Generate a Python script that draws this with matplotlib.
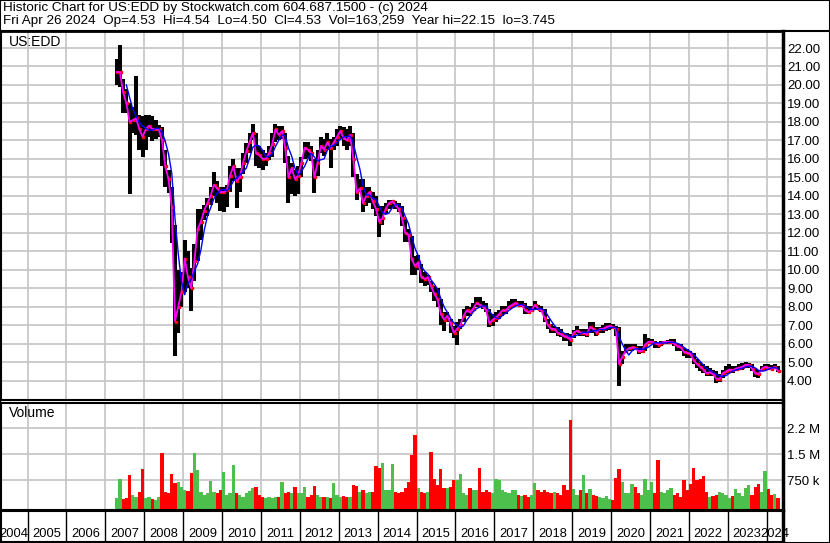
import matplotlib.pyplot as plt
import numpy as np
import pandas as pd

plt.rcParams['font.family'] = ['Liberation Sans', 'DejaVu Sans']

# monthly data, April 2007 .. April 2024
start = 2007 + 3 / 12
years = list(range(2004, 2025))

close = [
    20.7, 20.7, 19.6, 19.0, 18.0, 18.1, 18.2, 17.6, 17.2,                     # 2007
    17.6, 17.8, 17.6, 17.6, 17.6, 17.0, 15.6, 14.9, 13.4, 7.2, 8.0, 8.8,      # 2008
    10.6, 9.6, 9.0, 10.5, 12.2, 12.6, 13.2, 13.6, 14.0, 14.6, 14.4, 14.2,     # 2009
    14.2, 14.3, 15.1, 15.6, 14.8, 15.0, 15.8, 16.4, 16.9, 17.4, 16.3, 16.2,   # 2010
    16.0, 16.0, 16.3, 16.8, 17.6, 17.3, 17.5, 16.6, 15.0, 15.5, 14.9, 15.1,   # 2011
    15.8, 16.6, 16.5, 16.3, 15.0, 15.8, 16.7, 16.5, 16.9, 16.6, 16.9, 17.2,   # 2012
    17.5, 17.15, 17.0, 17.3, 16.0, 14.2, 14.4, 13.6, 14.0, 14.2, 13.7, 13.3,  # 2013
    12.6, 12.8, 13.3, 13.6, 13.7, 13.5, 13.3, 12.8, 12.0, 11.9, 10.6, 10.2,   # 2014
    10.4, 9.6, 9.5, 9.6, 9.1, 8.7, 8.4, 7.6, 7.3, 7.5, 7.1, 6.6,              # 2015
    6.8, 7.0, 7.5, 7.8, 7.7, 7.9, 8.2, 8.1, 8.0, 7.8, 7.1, 7.3,               # 2016
    7.4, 7.6, 7.8, 7.8, 8.0, 8.1, 8.2, 8.1, 8.1, 7.8, 7.7, 7.8,               # 2017
    8.1, 7.9, 7.8, 7.4, 7.0, 6.8, 6.8, 6.6, 6.5, 6.4, 6.35, 6.2,              # 2018
    6.6, 6.7, 6.6, 6.6, 6.5, 6.9, 6.8, 6.6, 6.8, 6.8, 6.9, 6.95,              # 2019
    6.9, 6.8, 4.9, 5.3, 5.6, 5.75, 5.8, 5.75, 5.6, 5.6, 5.95, 6.1,            # 2020
    6.1, 6.05, 5.95, 6.05, 6.1, 6.1, 6.1, 6.0, 5.85, 5.8, 5.55, 5.5,          # 2021
    5.45, 5.1, 4.9, 4.75, 4.6, 4.4, 4.45, 4.35, 4.1, 4.1, 4.4, 4.5,           # 2022
    4.6, 4.55, 4.65, 4.7, 4.75, 4.85, 4.85, 4.65, 4.4, 4.35, 4.65, 4.75,      # 2023
    4.7, 4.65, 4.75, 4.53,                                                    # 2024
]
high = [
    21.4, 22.15, 20.3, 19.8, 19.0, 18.8, 20.5, 18.4, 18.3,
    18.4, 18.4, 18.3, 18.1, 17.85, 17.7, 16.5, 15.4, 14.5, 12.4, 10.0, 9.9,
    11.6, 11.0, 10.1, 11.4, 13.3, 13.3, 13.5, 13.9, 14.5, 15.3, 14.8, 14.5,
    14.5, 14.6, 15.6, 16.0, 15.5, 15.5, 16.3, 16.85, 17.4, 17.9, 17.4, 16.7,
    16.5, 16.3, 16.7, 17.4, 17.9, 17.8, 17.8, 17.4, 16.15, 15.8, 15.4, 15.6,
    16.1, 16.9, 16.9, 16.7, 15.97, 16.5, 17.2, 17.05, 17.4, 17.05, 17.2, 17.6,
    17.77, 17.7, 17.6, 17.8, 17.4, 15.2, 14.9, 14.9, 14.5, 14.5, 14.2, 14.0,
    13.45, 13.45, 13.6, 13.8, 13.8, 13.7, 13.6, 13.45, 12.73, 12.2, 11.83, 10.75,
    10.8, 10.3, 9.9, 9.7, 9.4, 9.1, 9.0, 8.4, 7.7, 7.7, 7.33, 6.97,
    7.2, 7.33, 7.88, 8.05, 7.97, 8.2, 8.5, 8.5, 8.3, 8.2, 7.88, 7.6,
    7.7, 7.8, 8.05, 8.05, 8.3, 8.4, 8.4, 8.3, 8.3, 8.2, 8.05, 8.05,
    8.3, 8.1, 8.05, 7.9, 7.33, 7.06, 6.97, 6.88, 6.8, 6.6, 6.6, 6.5,
    6.75, 6.97, 6.8, 6.8, 6.8, 7.2, 7.2, 6.9, 6.9, 7.0, 7.1, 7.1,
    7.05, 6.95, 6.9, 5.6, 5.96, 5.96, 5.96, 5.96, 5.87, 5.87, 6.5, 6.3,
    6.23, 6.14, 6.05, 6.14, 6.14, 6.2, 6.23, 6.23, 6.05, 5.96, 5.78, 5.69,
    5.6, 5.5, 5.15, 5.0, 4.9, 4.8, 4.7, 4.6, 4.52, 4.34, 4.6, 4.8,
    4.88, 4.8, 4.8, 4.88, 4.97, 5.0, 4.97, 4.88, 4.7, 4.6, 4.8, 4.88,
    4.88, 4.83, 4.88, 4.8,
]
low = [
    20.0, 19.9, 18.5, 18.5, 14.1, 17.4, 17.3, 16.5, 16.1,
    16.5, 17.2, 16.95, 17.05, 17.2, 15.6, 14.5, 14.15, 11.45, 5.35, 6.6, 8.0,
    8.8, 9.0, 7.75, 9.4, 10.5, 11.6, 12.7, 12.9, 13.5, 14.0, 13.6, 13.2,
    13.15, 13.4, 14.2, 14.8, 13.35, 14.2, 15.2, 15.8, 16.3, 17.0, 15.6, 15.5,
    15.4, 15.6, 15.95, 16.1, 16.9, 17.0, 17.05, 15.8, 13.6, 14.1, 14.0, 14.1,
    15.0, 16.0, 16.05, 15.9, 14.17, 15.07, 16.3, 16.15, 16.5, 15.5, 16.5, 16.7,
    17.05, 16.7, 16.5, 16.7, 15.0, 13.8, 14.2, 13.1, 13.45, 13.6, 13.3, 12.9,
    11.8, 12.4, 13.0, 13.27, 13.36, 13.27, 13.1, 12.37, 11.5, 11.5, 9.7, 9.7,
    10.0, 9.3, 9.1, 9.2, 8.8, 8.3, 8.0, 7.0, 6.7, 7.15, 6.6, 6.3,
    5.95, 6.8, 7.15, 7.5, 7.5, 7.8, 7.97, 7.97, 7.88, 7.7, 6.9, 6.97,
    7.15, 7.33, 7.5, 7.6, 7.88, 8.05, 8.05, 8.05, 7.97, 7.6, 7.6, 7.7,
    7.88, 7.8, 7.7, 7.15, 6.8, 6.6, 6.6, 6.43, 6.35, 6.16, 6.16, 5.9,
    6.3, 6.5, 6.43, 6.43, 6.35, 6.6, 6.6, 6.4, 6.6, 6.6, 6.7, 6.75,
    6.77, 6.4, 3.71, 4.9, 5.5, 5.6, 5.6, 5.69, 5.42, 5.5, 5.6, 5.96,
    5.96, 5.78, 5.78, 5.87, 5.96, 5.96, 5.96, 5.87, 5.6, 5.6, 5.33, 5.24,
    5.24, 4.9, 4.7, 4.52, 4.43, 4.25, 4.25, 4.25, 3.85, 3.9, 4.16, 4.34,
    4.43, 4.43, 4.52, 4.58, 4.6, 4.7, 4.7, 4.52, 4.2, 4.16, 4.52, 4.58,
    4.6, 4.6, 4.62, 4.45,
]
# volume in millions
volume = [
    0.23, 0.78, 0.2, 0.25, 0.9, 0.33, 0.28, 0.42, 1.07,
    0.23, 0.28, 0.2, 0.18, 0.28, 1.53, 0.42, 0.38, 0.93, 0.68, 0.7, 0.57,
    0.47, 0.44, 0.97, 1.53, 1.05, 0.42, 0.33, 0.38, 0.73, 0.42, 0.38, 0.47,
    1.0, 0.33, 0.38, 1.19, 0.38, 0.33, 0.28, 0.38, 0.44, 0.52, 0.57, 0.33,
    0.28, 0.23, 0.28, 0.23, 0.26, 0.28, 0.71, 0.38, 0.42, 0.38, 0.55, 0.38,
    0.38, 0.55, 0.26, 0.33, 0.59, 0.33, 0.28, 0.26, 0.28, 0.23, 0.68, 0.33,
    0.28, 0.3, 0.28, 0.26, 0.62, 0.59, 0.42, 0.47, 0.38, 0.42, 0.42, 1.16,
    1.1, 1.24, 0.47, 0.47, 1.22, 0.42, 0.38, 0.42, 0.52, 0.71, 1.48, 2.06,
    0.52, 0.42, 0.38, 0.42, 1.58, 0.78, 0.62, 1.07, 0.52, 0.52, 0.57, 0.76,
    0.76, 0.93, 0.38, 0.33, 0.52, 0.47, 0.47, 1.1, 0.42, 0.47, 0.42, 0.39,
    0.78, 0.76, 0.47, 0.42, 0.38, 0.47, 0.47, 0.33, 0.3, 0.33, 0.28, 0.33,
    0.66, 0.47, 0.42, 0.47, 0.42, 0.38, 0.42, 0.38, 0.33, 0.62, 0.47, 2.49,
    0.49, 0.33, 0.47, 0.9, 0.38, 0.49, 0.33, 0.3, 0.28, 0.23, 0.3, 0.2,
    0.18, 0.81, 1.07, 0.7, 0.38, 0.39, 0.64, 0.55, 0.38, 0.33, 0.78, 0.47,
    0.71, 0.38, 1.34, 0.42, 0.38, 0.47, 0.52, 0.33, 0.38, 0.28, 0.76, 0.47,
    0.64, 1.1, 0.76, 0.78, 0.88, 0.42, 0.28, 0.3, 0.33, 0.42, 0.38, 0.33,
    0.23, 0.3, 0.49, 0.38, 0.3, 0.52, 0.62, 0.33, 0.55, 0.64, 0.42, 1.02,
    0.49, 0.33, 0.35, 0.23,
]

t = start + (np.arange(len(close)) + 0.5) / 12
ma = pd.Series(close).rolling(4).mean()
up = np.diff(close, prepend=close[0]) >= 0
vcolors = np.where(up, '#4cbf4c', '#ff0000')

W, H = 830, 543
t0 = 2005 + (1 - 27.5) / 38.9
t1 = 2005 + (783 - 27.5) / 38.9
grid = '#c4c4c4'


def box(x0, y0, x1, y1):
    return [x0 / W, 1 - y1 / H, (x1 - x0) / W, (y1 - y0) / H]


fig = plt.figure(figsize=(8.3, 5.43), dpi=100)

# price panel
ax = fig.add_axes(box(1, 31, 783, 400))
ax.vlines(t, low, high, colors='black', lw=2.9)
ax.plot(t + 0.02, close, ls='none', marker='s', ms=1.6, color='red')
ax.plot(t, close, color='#ff00ff', lw=1.3)
ax.plot(t, ma, color='#0000ff', lw=1.0)
ax.set_xlim(t0, t1)
ax.set_ylim(2.953, 22.92)
ax.set_xticks(years[1:])
ax.set_yticks(range(4, 23))
ax.set_yticklabels([f'{v:.2f}' for v in range(4, 23)])
ax.yaxis.tick_right()
ax.tick_params(length=0, labelsize=9.5, pad=3, labelbottom=False)
ax.grid(color=grid, lw=1.2)
ax.set_axisbelow(True)
ax.text(8 / 782, 1 - 11 / 369, 'US:EDD', transform=ax.transAxes, fontsize=10, va='center')

# volume panel
axv = fig.add_axes(box(1, 403, 783, 510))
axv.bar(t, np.array(volume) + 0.107, bottom=-0.107, width=1 / 12, color=vcolors, lw=0)
axv.set_xlim(t0, t1)
axv.set_ylim(-0.107, 2.98)
axv.set_xticks(years[1:])
axv.set_yticks([0.75, 1.5, 2.25])
axv.set_yticklabels(['750 k', '1.5 M', '2.2 M'])
axv.yaxis.tick_right()
axv.tick_params(length=0, labelsize=9.5, pad=3, labelbottom=False)
axv.grid(color=grid, lw=1.2)
axv.set_axisbelow(True)
axv.text(8 / 782, 1 - 10 / 107, 'Volume', transform=axv.transAxes, fontsize=10, va='center')

# year axis
axy = fig.add_axes(box(1, 511, 783, 542))
axy.set_xlim(t0, t1)
axy.set_ylim(0, 1)
axy.set_xticks([])
axy.set_yticks([])
for y in years:
    if y > t0:
        axy.axvline(y, color='black', lw=1)
    c = (max(y, t0) + min(y + 1, t1)) / 2
    axy.text(c, 0.25, str(y), ha='center', va='center', fontsize=9.3, clip_on=False)

for a in (ax, axv, axy):
    for s in a.spines.values():
        s.set_linewidth(1.5)
    a.spines['right'].set_linewidth(2.5)
ax.spines['top'].set_linewidth(2)

# header
fig.text(3 / W, 1 - 7.5 / H,
         'Historic Chart for US:EDD by Stockwatch.com 604.687.1500 - (c) 2024',
         fontsize=9.7, va='center')
fig.text(3 / W, 1 - 21 / H,
         'Fri Apr 26 2024  Op=4.53  Hi=4.54  Lo=4.50  Cl=4.53  Vol=163,259  Year hi=22.15  lo=3.745',
         fontsize=9.7, va='center')
fig.add_artist(plt.Line2D([0, 1], [1 - 31 / H, 1 - 31 / H], color='black', lw=1.5))
fig.add_artist(plt.Rectangle((0, 0), 1, 1, fill=False, ec='black', lw=1.5,
                             transform=fig.transFigure))

fig.savefig('out.png', dpi=100)
